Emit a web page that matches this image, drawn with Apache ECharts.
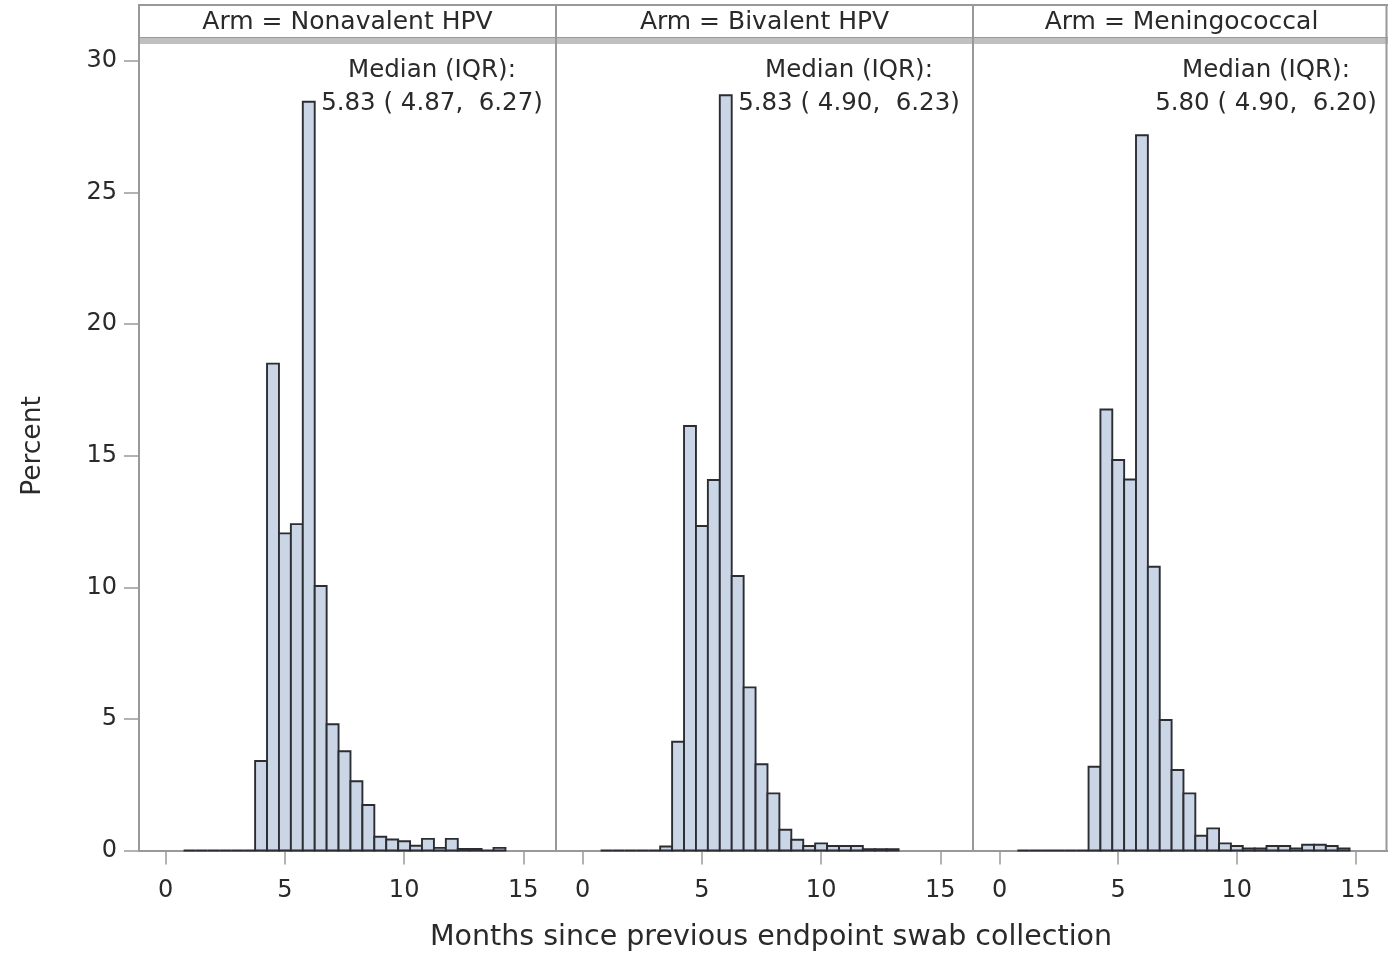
<!DOCTYPE html>
<html>
<head>
<meta charset="utf-8">
<script src="https://cdn.jsdelivr.net/npm/echarts@6/dist/echarts.min.js"></script>
<style>
  html, body { margin: 0; padding: 0; background: #ffffff; }
  #chart { width: 1388px; height: 954px; }
</style>
</head>
<body>
<div id="chart"></div>
<script>
// ---- data ----
const binWidth = 0.5;
const binCenters = [1, 1.5, 2, 2.5, 3, 3.5, 4, 4.5, 5, 5.5, 6, 6.5, 7, 7.5, 8, 8.5, 9, 9.5, 10, 10.5, 11, 11.5, 12, 12.5, 13, 13.5, 14, 14.5];
const nonavalentPct    = [0, 0, 0, 0, 0, 0,    3.40, 18.50, 12.05, 12.40, 28.45, 10.05, 4.80, 3.77, 2.63, 1.73, 0.52, 0.42, 0.35, 0.18, 0.44, 0.10, 0.44, 0.06, 0.06, 0, 0.10, null];
const bivalentPct      = [0, 0, 0, 0, 0, 0.15, 4.13, 16.13, 12.33, 14.08, 28.70, 10.43, 6.20, 3.28, 2.17, 0.79, 0.41, 0.17, 0.27, 0.17, 0.17, 0.17, 0.05, 0.05, 0.05, null, null, null];
const meningococcalPct = [0, 0, 0, 0, 0, 0,    3.18, 16.76, 14.84, 14.10, 27.18, 10.78, 4.96, 3.06, 2.17, 0.56, 0.84, 0.27, 0.17, 0.08, 0.08, 0.17, 0.17, 0.08, 0.22, 0.22, 0.17, 0.08];
const armNames = ['Nonavalent HPV', 'Bivalent HPV', 'Meningococcal'];
const medianLabel = 'Median (IQR):';
const medianIQR = ['5.83 ( 4.87,  6.27)', '5.83 ( 4.90,  6.23)', '5.80 ( 4.90,  6.20)'];
const xTickValues = [0, 5, 10, 15];
const yTickValues = [0, 5, 10, 15, 20, 25, 30];
const xTitle = 'Months since previous endpoint swab collection';
const yTitle = 'Percent';

// ---- layout / style ----
const FONT = "'DejaVu Sans', 'Liberation Sans', sans-serif";
const TEXT = '#2a2a2a';
const FRAME = '#999999';
const FILL = '#cad5e5';
const EDGE = '#2b2d33';
const panelLeft = [139, 556, 973];
const panelW = 417;
const plotTop = 44;
const plotBottom = 850.5;
const headerTop = 5;
const headerBottom = 38;
const X_MIN = -1.12, X_MAX = 16.37;
const Y_MIN = 0, Y_MAX = (plotBottom - plotTop) / ((plotBottom - 61) / 30);

const seriesValues = [nonavalentPct, bivalentPct, meningococcalPct];

const grids = [], xAxes = [], yAxes = [], series = [];
panelLeft.forEach((left, i) => {
  grids.push({ left: left, top: plotTop, width: panelW, height: plotBottom - plotTop, containLabel: false });
  xAxes.push({
    type: 'value', gridIndex: i, min: X_MIN, max: X_MAX,
    axisLine: { show: true, onZero: false, lineStyle: { color: FRAME, width: 2 } },
    axisTick: { show: true, length: 14, customValues: xTickValues, lineStyle: { color: FRAME, width: 1.5 } },
    axisLabel: { show: true, customValues: xTickValues, margin: 28, color: TEXT, fontSize: 24, fontFamily: FONT },
    splitLine: { show: false }
  });
  yAxes.push({
    type: 'value', gridIndex: i, min: Y_MIN, max: Y_MAX,
    axisLine: { show: false, onZero: false },
    axisTick: { show: i === 0, length: 15, customValues: yTickValues, lineStyle: { color: FRAME, width: 1.5 } },
    axisLabel: { show: i === 0, customValues: yTickValues, margin: 22, color: TEXT, fontSize: 24, fontFamily: FONT },
    splitLine: { show: false }
  });
  const data = binCenters.map((c, k) => [c, seriesValues[i][k]]).filter(d => d[1] !== null);
  series.push({
    type: 'custom', name: armNames[i], xAxisIndex: i, yAxisIndex: i,
    data: data,
    encode: { x: 0, y: 1 },
    renderItem: function (params, api) {
      const c = api.value(0), v = api.value(1);
      const p0 = api.coord([c - binWidth / 2, v]);
      const p1 = api.coord([c + binWidth / 2, 0]);
      return {
        type: 'rect',
        shape: { x: p0[0], y: p0[1], width: p1[0] - p0[0], height: p1[1] - p0[1] },
        style: { fill: FILL, stroke: EDGE, lineWidth: 1.9 }
      };
    }
  });
});

const graphics = [];
// header strips
panelLeft.forEach((left, i) => {
  graphics.push({
    type: 'rect', shape: { x: left, y: headerTop, width: panelW, height: headerBottom - headerTop },
    style: { fill: '#ffffff', stroke: FRAME, lineWidth: 2 }, z: 1
  });
  graphics.push({
    type: 'rect', shape: { x: left, y: headerBottom, width: panelW, height: plotTop - headerBottom },
    style: { fill: '#c0c0c0' }, z: 1
  });
  graphics.push({
    type: 'text', x: left + panelW / 2, y: (headerTop + headerBottom) / 2 + 1,
    style: { text: 'Arm = ' + armNames[i], fill: TEXT, font: '25px ' + FONT, textAlign: 'center', textVerticalAlign: 'middle' }, z: 3
  });
  graphics.push({
    type: 'text', x: left + 293, y: 54,
    style: { text: medianLabel + '\n' + medianIQR[i], fill: TEXT, font: '24.5px ' + FONT, textAlign: 'center', textVerticalAlign: 'top', lineHeight: 33 }, z: 3
  });
});
// vertical frame / divider lines
[139, 556, 973, 1386.5].forEach(x => {
  graphics.push({
    type: 'line', shape: { x1: x, y1: headerTop, x2: x, y2: plotBottom + 1 },
    style: { stroke: FRAME, lineWidth: 2 }, z: 2
  });
});
// axis titles
graphics.push({
  type: 'text', x: 771, y: 938,
  style: { text: xTitle, fill: TEXT, font: '28.5px ' + FONT, textAlign: 'center', textVerticalAlign: 'middle' }
});
graphics.push({
  type: 'text', x: 33, y: 446, rotation: Math.PI / 2,
  style: { text: yTitle, fill: TEXT, font: '26.5px ' + FONT, textAlign: 'center', textVerticalAlign: 'middle' }
});

const chart = echarts.init(document.getElementById('chart'), null, { renderer: 'canvas' });
chart.setOption({
  backgroundColor: '#ffffff',
  animation: false,
  grid: grids,
  xAxis: xAxes,
  yAxis: yAxes,
  series: series,
  graphic: { elements: graphics }
});
</script>
</body>
</html>
